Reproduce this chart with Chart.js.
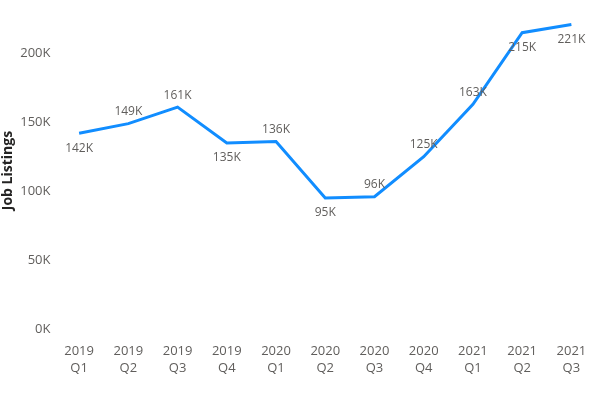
<!DOCTYPE html>
<html>
<head>
<meta charset="utf-8">
<script src="https://cdn.jsdelivr.net/npm/chart.js@4"></script>
<style>
  html, body { margin: 0; padding: 0; background: #fff; }
  #wrap { width: 600px; height: 393px; position: relative; }
</style>
</head>
<body>
<div id="wrap"><canvas id="c" width="600" height="393"></canvas></div>
<script>
const categories = [
  ['2019', 'Q1'], ['2019', 'Q2'], ['2019', 'Q3'], ['2019', 'Q4'],
  ['2020', 'Q1'], ['2020', 'Q2'], ['2020', 'Q3'], ['2020', 'Q4'],
  ['2021', 'Q1'], ['2021', 'Q2'], ['2021', 'Q3']
];
const jobListings = [142000, 149000, 161000, 135000, 136000, 95000, 96000, 125000, 163000, 215000, 221000];
const labelSide = ['below', 'above', 'above', 'below', 'above', 'below', 'above', 'above', 'above', 'below', 'below'];
const yTickValues = [0, 50000, 100000, 150000, 200000];
const yAxisTitle = 'Job Listings';

const FONT = '"Open Sans", "Noto Sans", sans-serif';

const dataLabelPlugin = {
  id: 'dataLabels',
  afterDatasetsDraw(chart) {
    const ctx = chart.ctx;
    const meta = chart.getDatasetMeta(0);
    ctx.save();
    ctx.font = '12px ' + FONT;
    ctx.fillStyle = '#605E5C';
    ctx.textAlign = 'center';
    ctx.textBaseline = 'middle';
    meta.data.forEach((pt, i) => {
      const v = chart.data.datasets[0].data[i];
      const txt = Math.round(v / 1000) + 'K';
      const dy = labelSide[i] === 'above' ? -12 : 15;
      ctx.fillText(txt, pt.x, pt.y + dy);
    });
    ctx.restore();
  }
};

new Chart(document.getElementById('c'), {
  type: 'line',
  data: {
    labels: categories,
    datasets: [{
      label: yAxisTitle,
      data: jobListings,
      borderColor: '#118DFF',
      borderWidth: 3,
      pointRadius: 0,
      pointHoverRadius: 0,
      tension: 0,
      fill: false,
      borderJoinStyle: 'miter'
    }]
  },
  options: {
    responsive: false,
    animation: false,
    layout: { padding: { top: 12, right: 4, left: 0, bottom: 0 } },
    plugins: {
      legend: { display: false },
      tooltip: { enabled: false }
    },
    scales: {
      x: {
        offset: true,
        grid: { display: false, drawTicks: false },
        border: { display: false },
        ticks: {
          color: '#605E5C',
          font: { family: FONT, size: 13, lineHeight: 1.3 },
          padding: 13.5,
          maxRotation: 0,
          autoSkip: false
        },
        afterFit(scale) { scale.height = 64; }
      },
      y: {
        min: 0,
        max: 230000,
        grid: { display: false, drawTicks: false },
        border: { display: false },
        afterBuildTicks(scale) {
          scale.ticks = yTickValues.map(v => ({ value: v }));
        },
        ticks: {
          color: '#605E5C',
          font: { family: FONT, size: 13 },
          padding: 4,
          callback: (v) => (v / 1000) + 'K'
        },
        title: {
          display: true,
          text: yAxisTitle,
          color: '#252423',
          font: { family: FONT, size: 14, weight: 'bold' },
          padding: { top: 0, bottom: 0 }
        },
        afterFit(scale) { scale.width = 54.5; }
      }
    }
  },
  plugins: [dataLabelPlugin]
});
</script>
</body>
</html>
